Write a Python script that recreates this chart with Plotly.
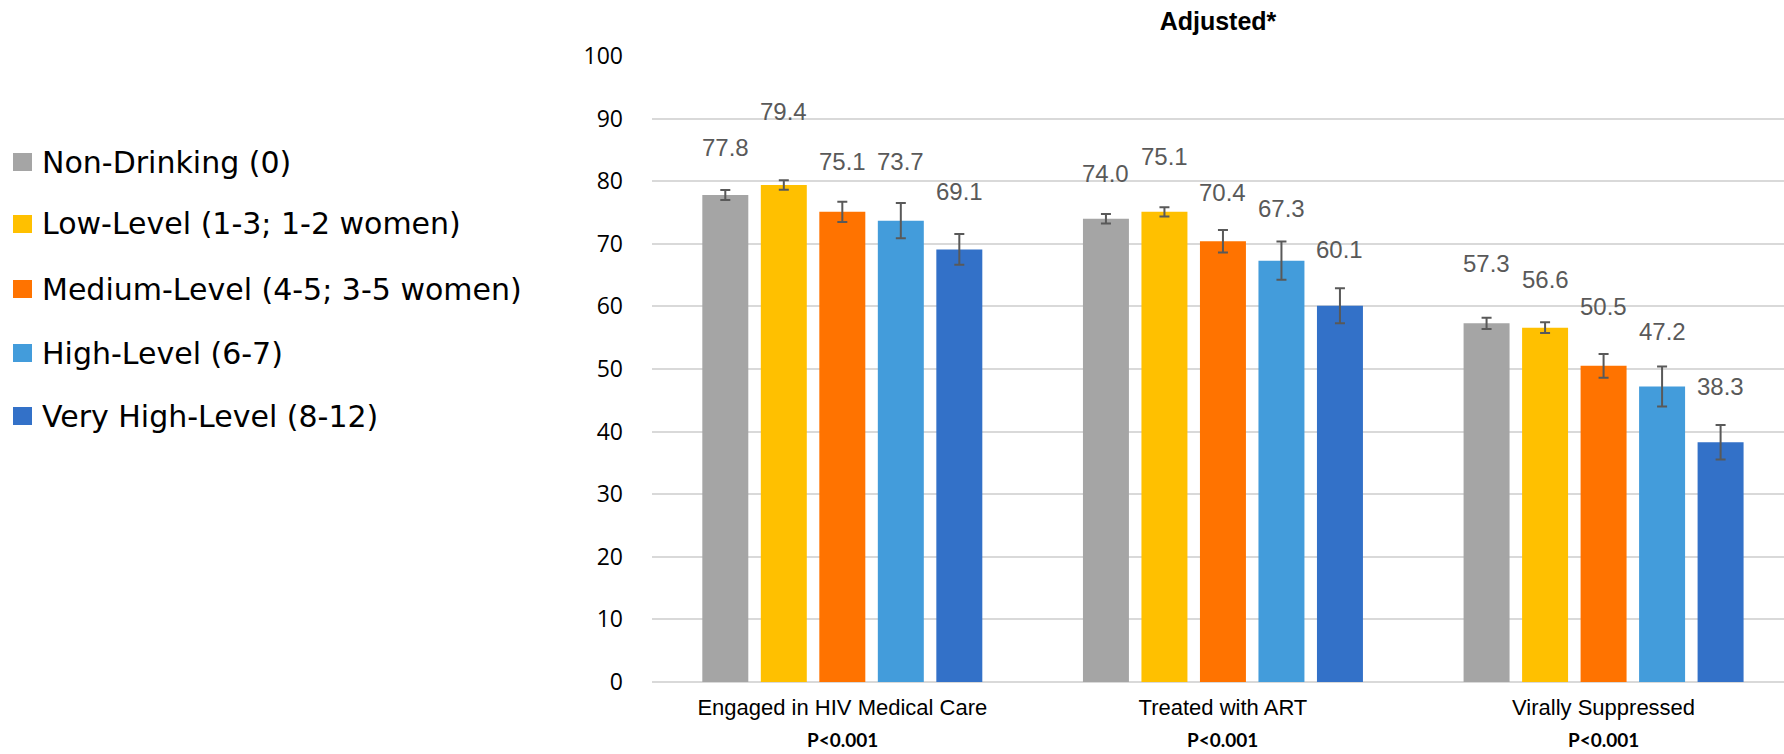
import plotly.graph_objects as go

# ---------------- data ----------------
categories = ["Engaged in HIV Medical Care", "Treated with ART", "Virally Suppressed"]
series_names = [
    "Non-Drinking (0)",
    "Low-Level (1-3; 1-2 women)",
    "Medium-Level (4-5; 3-5 women)",
    "High-Level (6-7)",
    "Very High-Level (8-12)",
]
non_drinking = [77.8, 74.0, 57.3]
low_level = [79.4, 75.1, 56.6]
medium_level = [75.1, 70.4, 50.5]
high_level = [73.7, 67.3, 47.2]
very_high_level = [69.1, 60.1, 38.3]

err_non_drinking = [0.8, 0.75, 0.9]
err_low_level = [0.75, 0.75, 0.85]
err_medium_level = [1.6, 1.8, 1.9]
err_high_level = [2.8, 3.05, 3.2]
err_very_high_level = [2.45, 2.8, 2.75]

p_values = ["P<0.001", "P<0.001", "P<0.001"]
y_tick_values = [0, 10, 20, 30, 40, 50, 60, 70, 80, 90, 100]
title_text = "Adjusted*"

# ---------------- style ----------------
colors = ["#A5A5A5", "#FFC000", "#FF7300", "#439CDB", "#3371C8"]
# vertical lift (px) of each value label above its bar top, as placed in the original
label_lift = [
    [47, 45, 60],
    [73, 55, 48],
    [50, 49, 59],
    [59, 52, 55],
    [58, 56, 56],
]

W, H = 1784, 754
M_L, M_R, M_T, M_B = 652, 0, 56, 72
plot_w = W - M_L - M_R
plot_h = H - M_T - M_B
x_range = [-0.5, 2.474]
cat_px = plot_w / (x_range[1] - x_range[0])
bargap = 0.2315
slot_px = cat_px * (1 - bargap) / 5

values = [non_drinking, low_level, medium_level, high_level, very_high_level]
errors = [err_non_drinking, err_low_level, err_medium_level, err_high_level, err_very_high_level]

fig = go.Figure()
for i, name in enumerate(series_names):
    fig.add_trace(go.Bar(
        name=name,
        x=categories,
        y=values[i],
        marker=dict(color=colors[i], line=dict(width=0)),
        error_y=dict(type="data", array=errors[i], visible=True,
                     color="#595959", thickness=2, width=5),
        showlegend=False,
    ))

annotations = []
# value labels
for i in range(5):
    for j, cat in enumerate(categories):
        annotations.append(dict(
            x=cat, y=values[i][j], xref="x", yref="y",
            text=f"{values[i][j]:.1f}", showarrow=False,
            xshift=(i - 2) * slot_px, yshift=label_lift[i][j],
            yanchor="middle", xanchor="center",
            font=dict(family="Liberation Sans, Arial", size=24, color="#595959"),
        ))
# p-values under category labels
for j, cat in enumerate(categories):
    annotations.append(dict(
        x=cat, y=0, xref="x", yref="paper",
        text=f"<b>{p_values[j]}</b>", showarrow=False,
        yanchor="middle", yshift=-57,
        font=dict(family="Lato, Liberation Sans", size=19, color="black"),
    ))

# manual legend (left side)
def px_to_paper_x(px):
    return (px - M_L) / plot_w

def px_to_paper_y(py):
    return 1 - (py - M_T) / plot_h

legend_rows_px = [162, 224, 289, 353, 416]
shapes = []
for i, name in enumerate(series_names):
    cy = legend_rows_px[i]
    shapes.append(dict(
        type="rect", xref="paper", yref="paper",
        x0=px_to_paper_x(13), x1=px_to_paper_x(32),
        y0=px_to_paper_y(cy + 9), y1=px_to_paper_y(cy - 9),
        fillcolor=colors[i], line=dict(width=0),
    ))
    annotations.append(dict(
        x=px_to_paper_x(40), y=px_to_paper_y(cy), xref="paper", yref="paper",
        text=name, showarrow=False, xanchor="left", yanchor="middle",
        font=dict(family="DejaVu Sans", size=30, color="black"),
    ))

fig.update_layout(
    width=W, height=H,
    margin=dict(l=M_L, r=M_R, t=M_T, b=M_B, pad=0),
    paper_bgcolor="white", plot_bgcolor="white",
    barmode="group", bargap=bargap, bargroupgap=0.214,
    title=dict(text=f"<b>{title_text}</b>", x=0.5, xref="paper",
               y=1 - 21 / H, yanchor="middle", yref="container",
               font=dict(family="Liberation Sans, Arial", size=25, color="black")),
    xaxis=dict(range=x_range, showgrid=False, zeroline=False, showline=False,
               ticks="", tickfont=dict(family="Liberation Sans, Arial", size=22, color="black"),
               ticklabelstandoff=10),
    yaxis=dict(range=[0, 100], tickvals=y_tick_values, showgrid=True,
               gridcolor="#D9D9D9", gridwidth=1.5, zeroline=True,
               zerolinecolor="#D9D9D9", zerolinewidth=2, showline=False, ticks="",
               tickfont=dict(family="Open Sans", size=23, color="black"),
               ticklabelstandoff=28),
    annotations=annotations,
    shapes=shapes,
)

fig.write_html("out.html", config={"displayModeBar": False},
               post_script="document.body.style.margin='0';")
